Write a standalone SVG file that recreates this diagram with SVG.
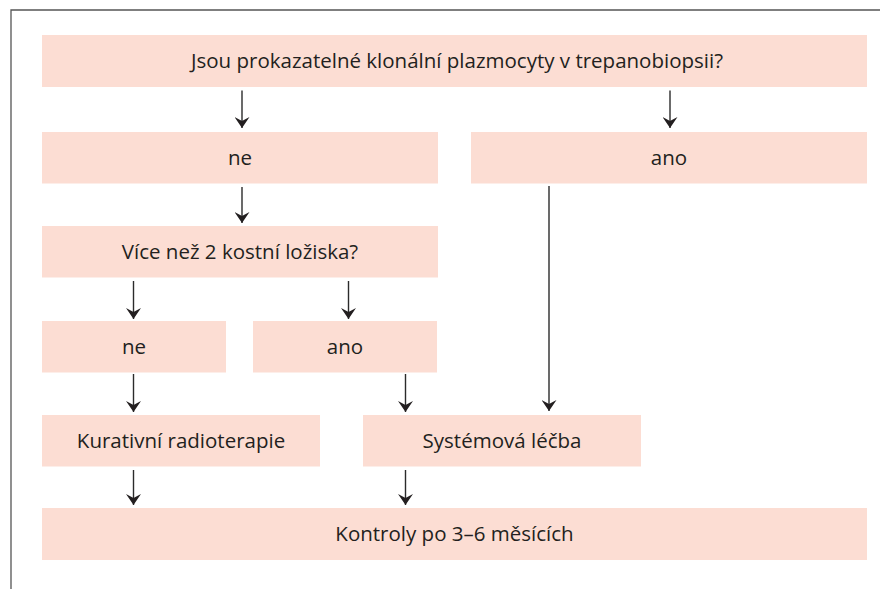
<svg xmlns="http://www.w3.org/2000/svg" width="880" height="589" viewBox="0 0 880 589">
<defs>
<style>
.box{fill:#fcddd3}
.t{font-family:"Open Sans","Noto Sans","Liberation Sans",sans-serif;font-size:20.5px;fill:#231f20;text-anchor:middle}
.c{stroke:#2b2b2b;stroke-width:1.4;fill:none;marker-end:url(#ah)}
.frame{stroke:#555;stroke-width:1.3;fill:none}
</style>
<marker id="ah" markerUnits="userSpaceOnUse" viewBox="0 0 10 15" refX="11" refY="7.5" markerWidth="11" markerHeight="15" orient="auto">
<path d="M0,0 L4,7.5 L0,15 L11,7.5 z" fill="#231f20"/>
</marker>
</defs>
<rect width="880" height="589" fill="#fff"/>
<path class="frame" d="M11,589 V10 H880"/>
<g id="n1"><rect class="box" x="42" y="35" width="825" height="52"/><text class="t" x="457" y="68">Jsou prokazatelné klonální plazmocyty v trepanobiopsii?</text></g>
<g id="n2"><rect class="box" x="42" y="132" width="396" height="51.5"/><text class="t" x="240" y="165">ne</text></g>
<g id="n3"><rect class="box" x="471" y="132" width="396" height="51.5"/><text class="t" x="669" y="165">ano</text></g>
<g id="n4"><rect class="box" x="42" y="226" width="396" height="51.5"/><text class="t" x="240" y="259">Více než 2 kostní ložiska?</text></g>
<g id="n5"><rect class="box" x="42" y="321" width="184" height="51.5"/><text class="t" x="134" y="354">ne</text></g>
<g id="n6"><rect class="box" x="253" y="321" width="184" height="51.5"/><text class="t" x="345" y="354">ano</text></g>
<g id="n7"><rect class="box" x="42" y="415" width="278" height="51.5"/><text class="t" x="181" y="448">Kurativní radioterapie</text></g>
<g id="n8"><rect class="box" x="363" y="415" width="278" height="51.5"/><text class="t" x="502" y="448">Systémová léčba</text></g>
<g id="n9"><rect class="box" x="42" y="508" width="825" height="52"/><text class="t" x="454.5" y="541">Kontroly po 3–6 měsících</text></g>
<g id="connectors">
<line class="c" x1="242" y1="90.5" x2="242" y2="128"/>
<line class="c" x1="670" y1="90.5" x2="670" y2="128"/>
<line class="c" x1="242" y1="187" x2="242" y2="223"/>
<line class="c" x1="549" y1="186" x2="549" y2="411"/>
<line class="c" x1="133.5" y1="281" x2="133.5" y2="319"/>
<line class="c" x1="348.5" y1="281" x2="348.5" y2="319"/>
<line class="c" x1="133.5" y1="374" x2="133.5" y2="412"/>
<line class="c" x1="405.5" y1="374" x2="405.5" y2="412"/>
<line class="c" x1="133.5" y1="470" x2="133.5" y2="505"/>
<line class="c" x1="405.5" y1="470" x2="405.5" y2="505"/>
</g>
</svg>
